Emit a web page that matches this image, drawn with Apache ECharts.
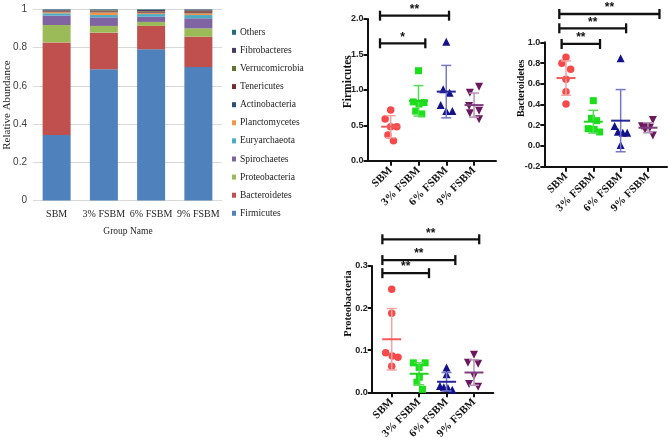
<!DOCTYPE html>
<html><head><meta charset="utf-8">
<script src="https://cdn.jsdelivr.net/npm/echarts@6/dist/echarts.min.js"></script>
<style>html,body{margin:0;padding:0;background:#fff}#c{width:668px;height:443px}</style>
</head><body><div id="c"></div>
<script>
// ---------- DATA ----------
const groups = ['SBM', '3% FSBM', '6% FSBM', '9% FSBM'];
const phyla = ['Firmicutes','Bacteroidetes','Proteobacteria','Spirochaetes','Euryarchaeota','Planctomycetes','Actinobacteria','Tenericutes','Verrucomicrobia','Fibrobacteres','Others'];
// relative abundance per group (SBM, 3%, 6%, 9%)
const abFirmicutes      = [0.343, 0.686, 0.791, 0.698];
const abBacteroidetes   = [0.484, 0.192, 0.122, 0.159];
const abProteobacteria  = [0.091, 0.035, 0.021, 0.043];
const abSpirochaetes    = [0.049, 0.045, 0.027, 0.053];
const abEuryarchaeota   = [0.012, 0.012, 0.014, 0.017];
const abPlanctomycetes  = [0.006, 0.014, 0.005, 0.009];
const abActinobacteria  = [0.003, 0.004, 0.003, 0.003];
const abTenericutes     = [0.003, 0.004, 0.006, 0.008];
const abVerrucomicrobia = [0.002, 0.003, 0.002, 0.003];
const abFibrobacteres   = [0.004, 0.002, 0.006, 0.005];
const abOthers          = [0.003, 0.003, 0.003, 0.002];
const barTicks = [0, 0.2, 0.4, 0.6, 0.8, 1];

// individual samples (6 per group) and horizontal jitter (category units)
const firmPoints = [[0.716,0.589,0.48,0.48,0.363,0.282],[1.27,0.83,0.82,0.80,0.70,0.66],[1.68,1.008,0.96,0.786,0.70,0.70],[1.044,0.96,0.772,0.706,0.669,0.584]];
const firmJitter = [[0,-0.2,0,0.22,-0.1,0.1],[0,-0.19,0.2,0.02,-0.1,0.12],[0,-0.11,0.12,-0.2,0,0.22],[0.18,-0.15,-0.18,0.18,-0.15,0.18]];
const firmMean = [0.48, 0.845, 0.975, 0.785];
const firmSD   = [0.155, 0.215, 0.37, 0.17];
const firmSig  = [[-0.385, 2.1, 2.047, '**'], [-0.385, 1.246, 1.657, '*']];

const bactPoints = [[0.855,0.797,0.739,0.643,0.524,0.405],[0.437,0.267,0.244,0.167,0.16,0.135],[0.845,0.193,0.138,0.128,0.128,0.01],[0.25,0.19,0.185,0.175,0.16,0.1]];
const bactJitter = [[0,-0.15,0.17,0,0,0],[0,-0.07,0.12,-0.19,0.03,0.23],[0,-0.22,-0.1,0.08,0.24,0],[0.18,-0.22,-0.04,0.07,-0.11,0.18]];
const bactMean = [0.655, 0.234, 0.244, 0.176];
const bactSD   = [0.165, 0.11, 0.30, 0.048];
const bactSig  = [[-0.245, 3.42, 1.273, '**'], [-0.245, 2.2, 1.135, '**'], [-0.16, 1.245, 0.984, '**']];

const protPoints = [[0.245,0.188,0.094,0.086,0.083,0.062],[0.07,0.07,0.059,0.036,0.024,0.007],[0.059,0.043,0.015,0.012,0.01,0.006],[0.089,0.07,0.068,0.039,0.02,0.013]];
const protJitter = [[0,0,-0.22,0.02,0.23,0],[-0.21,0.22,0,0.01,-0.08,0.12],[0,0,-0.24,-0.1,0.05,0.21],[0,-0.22,0.15,0,-0.18,0.15]];
const protMean = [0.126, 0.044, 0.025, 0.047];
const protSD   = [0.073, 0.026, 0.022, 0.03];
const protSig  = [[-0.34, 3.19, 0.3634, '**'], [-0.34, 2.32, 0.314, '**'], [-0.34, 1.36, 0.283, '**']];

// ---------- STYLE ----------
const stackValues = [abFirmicutes, abBacteroidetes, abProteobacteria, abSpirochaetes, abEuryarchaeota, abPlanctomycetes, abActinobacteria, abTenericutes, abVerrucomicrobia, abFibrobacteres, abOthers];
const stackColors = ['#4F81BD','#C0504D','#9BBB59','#8064A2','#4BACC6','#F79646','#2C4D75','#772C2A','#5F7530','#4D3B62','#276A7C'];
const markerColors = ['#f64a4a','#19e019','#12128c','#6a1a5c'];
const meanColors = ['#f25a5a','#22d422','#25259a','#7e3f7e'];
const sdColors = ['#f5a3a3','#55dd55','#7676c6','#b892b8'];
const symbols = ['circle','rect','triangle','triangle'];
const symRot = [0,0,0,180];
const symSize = [7.5,7,8,8];

const panels = [
  {name:'Firmicutes', pts:firmPoints, jit:firmJitter, mean:firmMean, sd:firmSD, sig:firmSig,
   grid:{left:367.5, top:19, width:128.5, height:141.7}, xr:[-0.835,3.79], yr:[0,2,0.5]},
  {name:'Bacteroidetes', pts:bactPoints, jit:bactJitter, mean:bactMean, sd:bactSD, sig:bactSig,
   grid:{left:544.3, top:42.3, width:122.7, height:124.4}, xr:[-0.794,3.696], yr:[-0.2,1.0,0.2]},
  {name:'Proteobacteria', pts:protPoints, jit:protJitter, mean:protMean, sd:protSD, sig:protSig,
   grid:{left:371.7, top:266, width:121.6, height:126.3}, xr:[-0.729,3.704], yr:[0,0.3,0.1]}
];

const grids = [{left:33, top:9.3, width:189, height:191.2, outerBoundsMode:'none'}];
const xAxes = [{
  gridIndex:0, type:'category', data:groups, boundaryGap:true,
  axisLine:{show:false}, axisTick:{show:false},
  axisLabel:{interval:0, fontFamily:'Liberation Serif', fontSize:10, color:'#262626', margin:9}
}];
const yAxes = [{
  gridIndex:0, type:'value', min:0, max:1, interval:0.2,
  axisLine:{show:false}, axisTick:{show:false},
  splitLine:{lineStyle:{color:'#d9d9d9', width:1}},
  axisLabel:{fontFamily:'Liberation Sans', fontSize:10, color:'#404040', margin:6,
    formatter:v=>String(barTicks[Math.round(v*5)])}
}];
const series = [];
phyla.forEach((p, i) => {
  series.push({type:'bar', name:p, stack:'total', xAxisIndex:0, yAxisIndex:0, barWidth:28,
    itemStyle:{color:stackColors[i]}, data:stackValues[i], silent:true});
});

function errRender(params, api){
  const i = api.value(0), m = api.value(1), s = api.value(2);
  const c = api.coord([i, m]), t = api.coord([i, m + s]), b = api.coord([i, m - s]);
  const cs = sdColors[i], cm = meanColors[i];
  return {type:'group', children:[
    {type:'line', shape:{x1:c[0], y1:t[1], x2:c[0], y2:b[1]}, style:{stroke:cs, lineWidth:1.5}},
    {type:'line', shape:{x1:c[0]-5, y1:t[1], x2:c[0]+5, y2:t[1]}, style:{stroke:cs, lineWidth:1.5}},
    {type:'line', shape:{x1:c[0]-5, y1:b[1], x2:c[0]+5, y2:b[1]}, style:{stroke:cs, lineWidth:1.5}},
    {type:'line', shape:{x1:c[0]-9.5, y1:c[1], x2:c[0]+9.5, y2:c[1]}, style:{stroke:cm, lineWidth:2}}
  ]};
}
function makeSigRender(sig){
  return function(params, api){
    const d = sig[params.dataIndex];
    const p1 = api.coord([d[0], d[2]]), p2 = api.coord([d[1], d[2]]);
    const y = p1[1];
    const st = {stroke:'#111', lineWidth:2.3};
    return {type:'group', children:[
      {type:'line', shape:{x1:p1[0], y1:y-5, x2:p1[0], y2:y+5}, style:st},
      {type:'line', shape:{x1:p1[0], y1:y, x2:p2[0], y2:y}, style:st},
      {type:'line', shape:{x1:p2[0], y1:y-5, x2:p2[0], y2:y+5}, style:st},
      {type:'text', x:(p1[0]+p2[0])/2, y:y-6, style:{text:d[3], font:'bold 12px "Liberation Sans"', textAlign:'center', textVerticalAlign:'middle', fill:'#111'}}
    ]};
  };
}

panels.forEach((pn, k) => {
  const gi = k + 1;
  grids.push(Object.assign({outerBoundsMode:'none'}, pn.grid));
  xAxes.push({
    gridIndex:gi, type:'value', min:pn.xr[0], max:pn.xr[1],
    splitLine:{show:false},
    axisLine:{onZero:false, lineStyle:{color:'#111', width:2}},
    axisTick:{customValues:[0,1,2,3], length:5, lineStyle:{color:'#111', width:2}},
    axisLabel:{customValues:[0,1,2,3], formatter:v=>groups[Math.round(v)], rotate:45, margin:8,
      fontFamily:'Liberation Serif', fontWeight:'bold', fontSize:11, color:'#111'}
  });
  yAxes.push({
    gridIndex:gi, type:'value', min:pn.yr[0], max:pn.yr[1], interval:pn.yr[2],
    splitLine:{show:false},
    axisLine:{show:true, onZero:false, lineStyle:{color:'#111', width:2}},
    axisTick:{show:true, length:4, lineStyle:{color:'#111', width:2}},
    axisLabel:{formatter:v=>v.toFixed(1), margin:4, fontFamily:'Liberation Sans', fontWeight:'bold', fontSize:9, color:'#222'}
  });
  groups.forEach((g, gi2) => {
    series.push({type:'scatter', xAxisIndex:gi, yAxisIndex:gi, symbol:symbols[gi2], symbolRotate:symRot[gi2],
      symbolSize:symSize[gi2], itemStyle:{color:markerColors[gi2], opacity:1}, silent:true, z:3,
      data:pn.pts[gi2].map((v, j) => [gi2 + pn.jit[gi2][j], v])});
  });
  series.push({type:'custom', xAxisIndex:gi, yAxisIndex:gi, renderItem:errRender, silent:true, z:4, clip:false,
    data:pn.mean.map((m, i) => [i, m, pn.sd[i]])});
  series.push({type:'custom', xAxisIndex:gi, yAxisIndex:gi, renderItem:makeSigRender(pn.sig), silent:true, z:5, clip:false,
    encode:{x:[0,1], y:2}, data:pn.sig.map(d => [d[0], d[1], d[2]])});
});

const chart = echarts.init(document.getElementById('c'), null, {renderer:'canvas'});
chart.setOption({
  animation:false,
  backgroundColor:'#fff',
  grid:grids, xAxis:xAxes, yAxis:yAxes, series:series,
  legend:{
    data:phyla.slice().reverse(), orient:'vertical', left:232, top:26.3, padding:0,
    icon:'rect', itemWidth:4, itemHeight:5, itemGap:6.1, selectedMode:false,
    textStyle:{fontFamily:'Liberation Serif', fontSize:9.5, color:'#222', lineHeight:12, padding:[0,0,0,-1]}
  },
  graphic:[
    {type:'text', x:7.5, y:105, rotation:Math.PI/2, style:{text:'Relative Abundance', font:'11px "Liberation Serif"', fill:'#262626', textAlign:'center', textVerticalAlign:'middle'}},
    {type:'text', x:128, y:231, style:{text:'Group Name', font:'9.5px "Liberation Serif"', fill:'#262626', textAlign:'center', textVerticalAlign:'middle'}},
    {type:'text', x:348.5, y:81.7, rotation:Math.PI/2, style:{text:'Firmicutes', font:'bold 11.5px "Liberation Serif"', fill:'#111', textAlign:'center', textVerticalAlign:'middle'}},
    {type:'text', x:521.5, y:88.3, rotation:Math.PI/2, style:{text:'Bacteroidetes', font:'bold 10px "Liberation Serif"', fill:'#111', textAlign:'center', textVerticalAlign:'middle'}},
    {type:'text', x:348.5, y:303.5, rotation:Math.PI/2, style:{text:'Proteobacteria', font:'bold 10.5px "Liberation Serif"', fill:'#111', textAlign:'center', textVerticalAlign:'middle'}}
  ]
});
</script>
</body></html>
